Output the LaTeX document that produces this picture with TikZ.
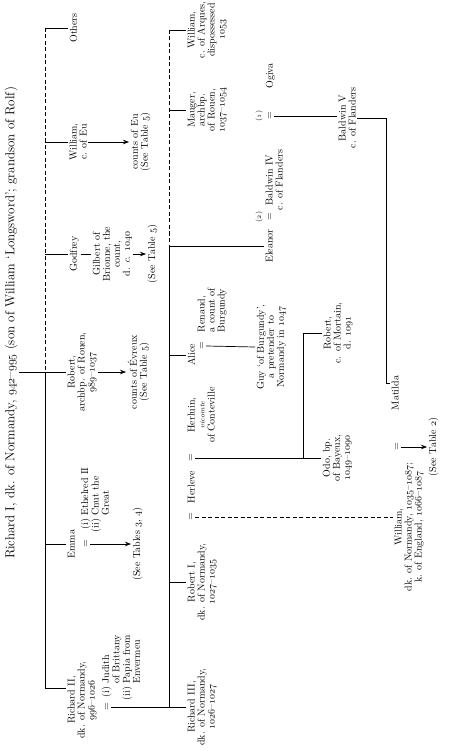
\documentclass[tikz,border=0pt]{standalone}
\usepackage{tikz}
\usetikzlibrary{arrows.meta}
\newcommand{\yr}[1]{\ensuremath{\oldstylenums{#1}}}

\begin{document}
\begin{tikzpicture}[x=1pt,y=-1pt,
  pers/.style={rotate=90,align=center,inner sep=1.5pt,font=\fontsize{10}{10}\selectfont},
  lft/.style={pers,align=left},
  eqs/.style={rotate=90,inner sep=2pt,font=\fontsize{10}{10}\selectfont},
  tag/.style={rotate=90,inner sep=0.5pt,font=\fontsize{7}{7}\selectfont},
  ln/.style={line width=0.7pt},
  dsh/.style={line width=0.7pt,dash pattern=on 4pt off 2.5pt},
  arr/.style={line width=0.7pt,-{Stealth[length=6pt,width=4.5pt]}}]
  \useasboundingbox (0,0) rectangle (459,751);

  \node[pers,anchor=north,font=\fontsize{13}{13}\selectfont] (title) at (3,323)
       {Richard I, dk. of Normandy, \yr{942}--\yr{995} (son of William `Longsword'; grandson of Rolf)};

  \node[pers,anchor=north] (rii) at (66,700) {Richard II,\\dk. of Normandy,\\\yr{996}--\yr{1026}};
  \node[eqs] (riiEq) at (107,707) {=};
  \node[lft,anchor=north west] (riiSp) at (100,702)
       {\begin{tabular}{@{}r@{ }l@{}}(i)&Judith\\&of Brittany\\(ii)&Papia from\\&Envermeu\end{tabular}};
  \node[pers,anchor=north] (emma) at (66,544) {Emma};
  \node[eqs] (emmaEq) at (86,544) {=};
  \node[lft,anchor=north west] (emmaSp) at (79,534)
       {\begin{tabular}{@{}r@{ }l@{}}(i)&Ethelred II\\(ii)&Cnut the\\&Great\end{tabular}};
  \node[pers,anchor=north] (refEmma) at (131,544) {(See Tables \yr{3}, \yr{4})};
  \node[pers,anchor=north] (rob) at (66,372) {Robert,\\archbp. of Rouen,\\\yr{989}--\yr{1037}};
  \node[pers,anchor=north] (refEv) at (126,372) {counts of Évreux\\(See Table \yr{5})};
  \node[pers,anchor=north] (godfrey) at (68,254) {Godfrey};
  \node[pers,anchor=north] (gilbert) at (91,254) {Gilbert of\\Brionne, the\\count,\\d. \textit{c.} \yr{1040}};
  \node[pers,anchor=north] (refGod) at (146,254) {(See Table \yr{5})};
  \node[pers,anchor=north] (willEu) at (68,142) {William,\\c. of Eu};
  \node[pers,anchor=north] (refEu) at (129,142) {counts of Eu\\(See Table \yr{5})};
  \node[pers,anchor=north] (others) at (68,28) {Others};

  \node[pers,anchor=north] (riii) at (186,707) {Richard III,\\dk. of Normandy,\\\yr{1026}--\yr{1027}};
  \node[pers,anchor=north] (rI) at (186,582) {Robert I,\\dk. of Normandy,\\\yr{1027}--\yr{1035}};
  \node[eqs] (rIEq) at (191,517) {=};
  \node[pers,anchor=north] (herleve) at (186,487) {Herleve};
  \node[eqs] (hhEq) at (191,458) {=};
  \node[pers,anchor=north] (herluin) at (186,415)
       {Herluin,\\{\fontsize{7}{8}\selectfont\itshape vicomte}\\of Conteville};
  \node[pers,anchor=north] (alice) at (186,355) {Alice};
  \node[eqs] (aliceEq) at (202,346) {=};
  \node[lft,anchor=north west] (renaud) at (196,334) {Renaud,\\a count of\\Burgundy};
  \node[pers,anchor=north] (guy) at (255,347) {Guy `of Burgundy',\\a pretender to\\Normandy in \yr{1047}};
  \node[pers,anchor=north] (eleanor) at (264,246) {Eleanor};
  \node[tag] (lab2) at (259,217) {(\yr{2})};
  \node[eqs] (eq2) at (270,217) {=};
  \node[pers,anchor=north] (baldIV) at (264,180) {Baldwin IV\\c. of Flanders};
  \node[tag] (lab1) at (259,116) {(\yr{1})};
  \node[eqs] (eq1) at (270,116) {=};
  \node[pers,anchor=north] (ogiva) at (264,76) {Ogiva};
  \node[pers,anchor=north] (mauger) at (186,110) {Mauger,\\archbp.\\of Rouen,\\\yr{1037}--\yr{1054}};
  \node[pers,anchor=north] (arques) at (186,30) {William,\\c. of Arques,\\dispossessed\\\yr{1053}};

  \node[pers,anchor=north] (odo) at (321,458) {Odo, bp.\\of Bayeux,\\\yr{1049}--\yr{1090}};
  \node[pers,anchor=north] (robM) at (322,333) {Robert,\\c. of Mortain,\\d. \yr{1091}};
  \node[pers,anchor=north] (bV) at (337,118) {Baldwin V\\c. of Flanders};
  \node[pers,anchor=north] (matilda) at (390,393) {Matilda};
  \node[pers,anchor=north] (william) at (393,527)
       {William,\\dk. of Normandy, \yr{1035}--\yr{1087};\\k. of England, \yr{1066}--\yr{1087}};
  \node[eqs] (wmEq) at (397,447) {=};
  \node[pers,anchor=north] (ref2) at (427,447) {(See Table \yr{2})};

  \coordinate (jOth) at (45,28);
  \coordinate (jEu) at (45,142);
  \coordinate (jGod) at (45,254);
  \coordinate (jRob) at (45,372);
  \coordinate (jEmma) at (45,544);
  \coordinate (jRii) at (45,688);
  \draw[dsh] (jOth) -- (jRob);
  \draw[ln] (jRob) -- (jRii) -- (jRii -| rii.north);
  \draw[ln] (jRob -| title.south) -- (jRob -| rob.north);
  \foreach \j/\n in {jOth/others,jEu/willEu,jGod/godfrey,jEmma/emma}
    \draw[ln] (\j) -- (\j -| \n.north);
  \draw[ln] (godfrey.south) -- (gilbert.north);
  \draw[arr] (gilbert.south) -- (refGod.north);
  \draw[arr] (willEu.south) -- (refEu.north);
  \draw[arr] (rob.south) -- (refEv.north);
  \draw[arr] (emmaEq.south) -- (refEmma.north);
  \draw[ln] (riiEq.south) -- (riii.north);

  \coordinate (kArq) at (169,30);
  \coordinate (kMau) at (169,110);
  \coordinate (kEle) at (169,246);
  \coordinate (kAli) at (169,355);
  \coordinate (kRI) at (169,582);
  \coordinate (kRIII) at (169,707);
  \draw[dsh] (kArq) -- (kEle);
  \draw[ln] (kEle) -- (kRIII);
  \foreach \k/\n in {kArq/arques,kMau/mauger,kEle/eleanor,kAli/alice,kRI/rI}
    \draw[ln] (\k) -- (\k -| \n.north);
  \draw[dsh] (rIEq.south) -- (rIEq.south -| william.north);
  \draw[ln] (hhEq.south) -- (odo.north);
  \coordinate (sib) at (303,458);
  \draw[ln] (sib) |- (robM.north);
  \draw[ln] (aliceEq.south) -- (guy.north);
  \draw[ln] (eq1.south) -- (eq1.south -| bV.north);
  \coordinate (mtCorner) at (386,383);
  \draw[ln] (bV.south) -| (mtCorner) -- (mtCorner -| matilda.north);
  \draw[arr] (wmEq.south) -- (ref2.north);
\end{tikzpicture}
\end{document}
